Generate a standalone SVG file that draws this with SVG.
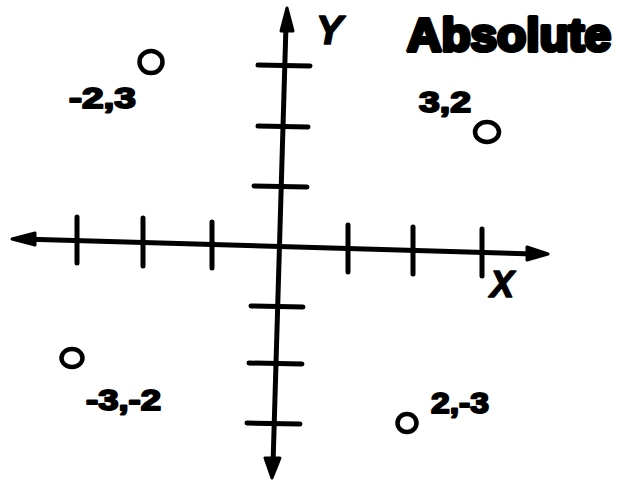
<svg xmlns="http://www.w3.org/2000/svg" width="619" height="480" viewBox="0 0 619 480">
<style>
.ax{stroke:#000;stroke-width:5;stroke-linecap:round;fill:none}
.tk{stroke:#000;stroke-width:5;stroke-linecap:round;fill:none}
.ah{fill:#000;stroke:#000;stroke-width:3;stroke-linejoin:round}
.pt{fill:none;stroke:#000;stroke-width:4.5}
.lb{font-family:"Liberation Sans",Arial,sans-serif;font-weight:bold;font-size:30px;fill:#000;stroke:#000;stroke-width:2;stroke-linejoin:round}
.axl{font-family:"Liberation Sans",Arial,sans-serif;font-weight:bold;font-style:italic;fill:#000;stroke:#000;stroke-width:1.5;stroke-linejoin:round}
.ttl{font-family:"Liberation Sans",Arial,sans-serif;font-weight:bold;font-size:46px;fill:#000;stroke:#000;stroke-width:4;stroke-linejoin:round}
</style>
<rect width="619" height="480" fill="#fff"/>
<g id="connectors">
  <line class="ax" x1="22" y1="239" x2="535" y2="254"/>
  <polygon class="ah" points="12,239 35,233 35,245"/>
  <polygon class="ah" points="548,254 527,247 527,260"/>
  <line class="ax" x1="286" y1="25" x2="273" y2="465"/>
  <polygon class="ah" points="287,8 281,31 293,31"/>
  <polygon class="ah" points="272,478 265,458 280,458"/>
  <line class="tk" x1="77" y1="217" x2="77" y2="263"/>
  <line class="tk" x1="143" y1="218" x2="143" y2="266"/>
  <line class="tk" x1="212" y1="222" x2="212" y2="268"/>
  <line class="tk" x1="348" y1="225" x2="348" y2="272"/>
  <line class="tk" x1="413" y1="227" x2="413" y2="274"/>
  <line class="tk" x1="482" y1="229" x2="482" y2="276"/>
  <line class="tk" x1="258" y1="65" x2="310" y2="66"/>
  <line class="tk" x1="258" y1="126" x2="308" y2="127"/>
  <line class="tk" x1="254" y1="186" x2="307" y2="187"/>
  <line class="tk" x1="251" y1="306" x2="303" y2="307"/>
  <line class="tk" x1="249" y1="363" x2="302" y2="364"/>
  <line class="tk" x1="247" y1="423" x2="300" y2="424"/>
</g>
<g id="axis-labels">
  <text class="axl" x="316" y="44" font-size="40">Y</text>
  <text class="axl" x="490" y="297" font-size="36">X</text>
</g>
<g id="title">
  <text class="ttl" x="407" y="51" textLength="204" lengthAdjust="spacingAndGlyphs">Absolute</text>
</g>
<g id="point-m2-3">
  <ellipse class="pt" cx="151" cy="62" rx="11.5" ry="11"/>
  <text class="lb" x="69" y="108" textLength="67" lengthAdjust="spacingAndGlyphs">-2,3</text>
</g>
<g id="point-3-2">
  <ellipse class="pt" cx="487" cy="132" rx="12" ry="10"/>
  <text class="lb" x="419" y="112" textLength="52" lengthAdjust="spacingAndGlyphs">3,2</text>
</g>
<g id="point-m3-m2">
  <ellipse class="pt" cx="72" cy="358" rx="10.5" ry="9"/>
  <text class="lb" x="86" y="410" textLength="75" lengthAdjust="spacingAndGlyphs">-3,-2</text>
</g>
<g id="point-2-m3">
  <ellipse class="pt" cx="407" cy="423" rx="9.5" ry="9"/>
  <text class="lb" x="431" y="413" textLength="58" lengthAdjust="spacingAndGlyphs">2,-3</text>
</g>
</svg>
